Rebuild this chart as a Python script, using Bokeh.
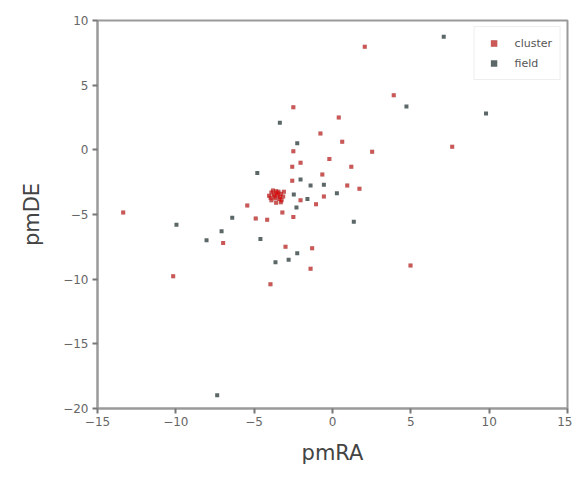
from bokeh.plotting import figure
from bokeh.models import FixedTicker, Legend, LegendItem, ColumnDataSource
from bokeh.embed import file_html
from bokeh.resources import INLINE

# cluster members (pmRA, pmDE)
cluster_x = [2.06, 3.91, 7.64, 2.53, -2.5, 0.4, -0.77, 0.62, -2.5, -0.2, -2.04, -2.57,
             1.2, -0.65, -2.57, 0.94, 1.72, -0.55, -1.05, -2.04, -2.5, -3.2, -4.17, -4.9,
             -5.44, -13.36, -6.98, -10.17, -3.0, -1.3, -1.4, -3.96, 4.98, -3.1,
             -3.9, -3.6, -3.3, -3.7, -3.4, -3.9, -3.15, -3.6, -3.5, -3.75, -3.35,
             -4.05, -3.55, -3.25, -3.8, -3.45, -3.65, -3.95, -3.3]
cluster_y = [7.97, 4.23, 0.23, -0.15, 3.3, 2.5, 1.26, 0.62, -0.1, -0.7, -1.0, -1.3,
             -1.3, -1.9, -2.4, -2.75, -3.0, -3.6, -4.2, -3.9, -5.2, -4.85, -5.4, -5.3,
             -4.3, -4.85, -7.2, -9.77, -7.5, -7.6, -9.2, -10.4, -8.95, -3.25,
             -3.3, -3.2, -3.4, -3.6, -3.8, -3.9, -3.6, -4.1, -3.5, -3.45, -3.65,
             -3.55, -3.35, -3.9, -3.15, -3.25, -3.75, -3.7, -4.05]

# field stars (pmRA, pmDE)
field_x = [7.1, 4.72, 9.8, -3.36, -2.25, -4.8, -1.4, -0.55, 0.28, -2.47, -1.6,
           -2.3, 1.36, -4.6, -2.25, -2.8, -3.64, -9.96, -6.4, -7.08, -8.04, -7.36, -2.04]
field_y = [8.75, 3.35, 2.8, 2.1, 0.5, -1.8, -2.75, -2.7, -3.35, -3.45, -3.8,
           -4.45, -5.57, -6.9, -8.0, -8.5, -8.7, -5.8, -5.26, -6.3, -7.0, -18.97, -2.3]

x_ticks = [-15, -10, -5, 0, 5, 10, 15]
y_ticks = [-20, -15, -10, -5, 0, 5, 10]


def lab(v):
    return str(v).replace("-", "\u2212")


p = figure(width=572, height=477, x_range=(-15, 15), y_range=(-20, 10),
           output_backend="svg", toolbar_location=None,
           min_border_left=97, min_border_right=5, min_border_top=20, min_border_bottom=69)

p.xgrid.visible = False
p.ygrid.visible = False
p.outline_line_color = "#9a9a9a"
p.outline_line_width = 2
p.background_fill_color = "white"
p.border_fill_color = "white"

fsrc = ColumnDataSource(dict(x=field_x, y=field_y))
csrc = ColumnDataSource(dict(x=cluster_x, y=cluster_y))

r_field = p.scatter("x", "y", source=fsrc, marker="square", size=4,
                    fill_color="#3f4c4c", line_color=None, fill_alpha=0.85)
r_cbase = p.scatter("x", "y", source=csrc, marker="square", size=4,
                    fill_color="#3f4c4c", line_color=None, fill_alpha=0.45)
r_cl = p.scatter("x", "y", source=csrc, marker="square", size=4,
                 fill_color="#ee0000", line_color=None, fill_alpha=0.5)

for ax, ticks in ((p.xaxis[0], x_ticks), (p.yaxis[0], y_ticks)):
    ax.ticker = FixedTicker(ticks=ticks)
    ax.major_label_overrides = {t: lab(t) for t in ticks}
    ax.minor_tick_line_color = None
    ax.major_tick_in = 0
    ax.major_tick_out = 5
    ax.major_tick_line_color = "#777777"
    ax.major_tick_line_width = 2
    ax.axis_line_color = "#9a9a9a"
    ax.axis_line_width = 2
    ax.major_label_text_font = "DejaVu Sans"
    ax.major_label_text_font_size = "12px"
    ax.major_label_text_color = "#666666"
    ax.axis_label_text_font = "DejaVu Sans"
    ax.axis_label_text_font_size = "21px"
    ax.axis_label_text_font_style = "normal"
    ax.axis_label_text_color = "#444444"

p.xaxis[0].axis_label = "pmRA"
p.yaxis[0].axis_label = "pmDE"
p.xaxis[0].axis_label_standoff = 12
p.yaxis[0].axis_label_standoff = 16
p.xaxis[0].major_label_standoff = 3
p.yaxis[0].major_label_standoff = 4

legend = Legend(items=[LegendItem(label="cluster", renderers=[r_cbase, r_cl]),
                       LegendItem(label="field", renderers=[r_field])],
                location="top_right")
legend.margin = 6
legend.padding = 8
legend.spacing = 4
legend.label_standoff = 10
legend.label_text_font = "DejaVu Sans"
legend.label_text_font_size = "11px"
legend.label_text_color = "#555555"
legend.label_height = 16
legend.glyph_width = 22
legend.glyph_height = 16
legend.border_line_color = "#dddddd"
legend.background_fill_alpha = 0.9
p.add_layout(legend)

open("out.html", "w").write(file_html(p, INLINE))
